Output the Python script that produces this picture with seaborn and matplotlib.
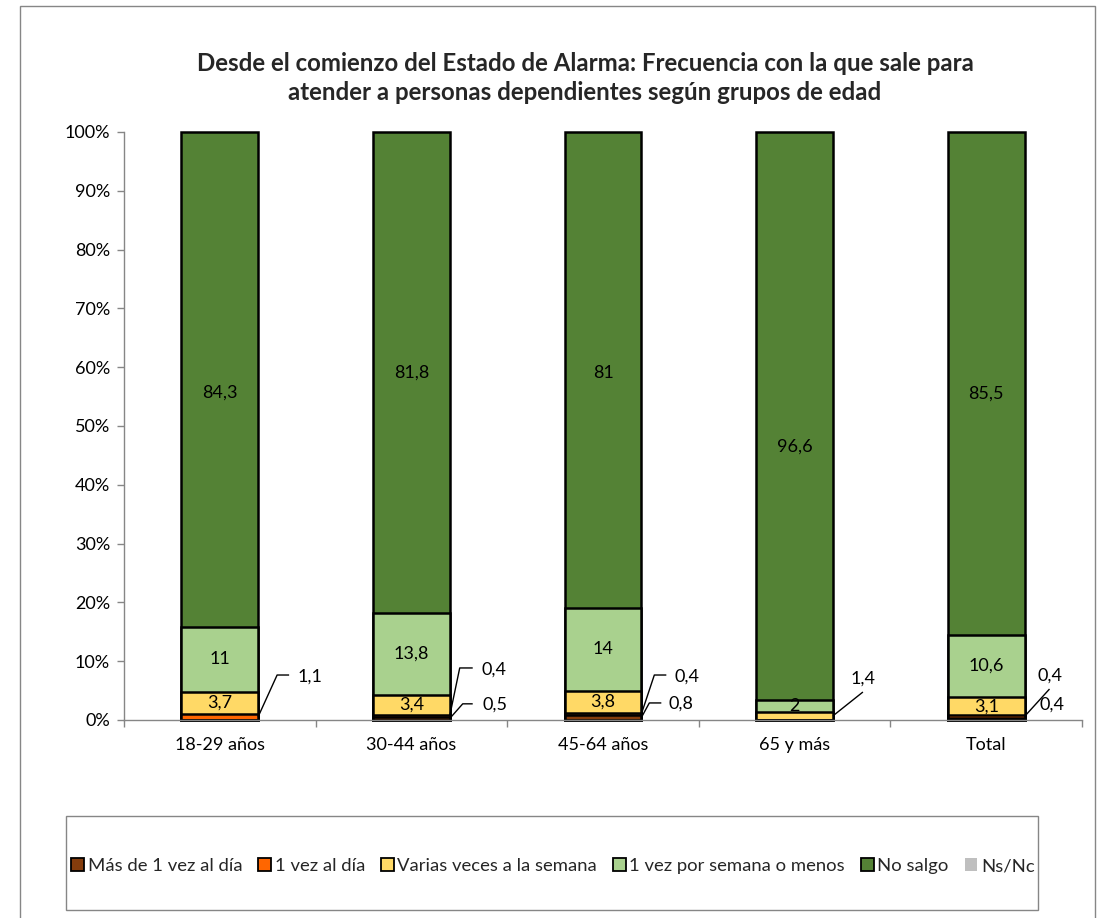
import numpy as np
import pandas as pd
import matplotlib
matplotlib.use("Agg")
import matplotlib.pyplot as plt
import seaborn as sns
from matplotlib.patches import Rectangle, Patch

# ---------------- data ----------------
categories = ["18-29 años", "30-44 años", "45-64 años", "65 y más", "Total"]
series_names = ["Más de 1 vez al día", "1 vez al día", "Varias veces a la semana",
                "1 vez por semana o menos", "No salgo", "Ns/Nc"]
mas_de_1_vez = [0, 0.5, 0.8, 0, 0.4]
una_vez_dia = [1.1, 0.4, 0.4, 0, 0.4]
varias_veces = [3.7, 3.4, 3.8, 1.4, 3.1]
una_vez_semana = [11, 13.8, 14, 2, 10.6]
no_salgo = [84.3, 81.8, 81, 96.6, 85.5]
ns_nc = [0, 0, 0, 0, 0]
y_ticks = [0, 10, 20, 30, 40, 50, 60, 70, 80, 90, 100]
y_tick_labels = ["0%", "10%", "20%", "30%", "40%", "50%", "60%", "70%", "80%", "90%", "100%"]
title = ("Desde el comienzo del Estado de Alarma: Frecuencia con la que sale para\n"
         "atender a personas dependientes según grupos de edad")

series_values = [mas_de_1_vez, una_vez_dia, varias_veces, una_vez_semana, no_salgo, ns_nc]
colors = ["#843C0C", "#FF6600", "#FFD966", "#A9D18E", "#548235", "#BFBFBF"]

# callout layout: (category idx, series idx, elbow dx px, elbow y, end dx px, text dx px, text y, ha)
callouts = [
    (0, 1, 19, 7.65, 31, 39, 7.3, "left"),
    (1, 1, 10, 8.85, 23, 32, 8.5, "left"),
    (1, 0, 13, 2.75, 23, 33, 2.6, "left"),
    (2, 1, 13, 7.65, 25, 33, 7.3, "left"),
    (2, 0, 8, 2.9, 20, 27, 2.75, "left"),
    (3, 2, 30, 4.76, 30, 30, 7.1, "center"),
    (4, 1, 25, 5.27, 25, 25, 7.5, "center"),
    (4, 0, None, None, None, 15, 2.55, "left"),
]
# vertical nudges (px, downwards) of the big "No salgo" labels
label_nudge_px = {(4, 0): 13, (4, 2): 3, (4, 3): 31, (4, 4): 10}

# ---------------- style ----------------
sns.set_theme(style="white")
plt.rcParams["font.family"] = ["Lato", "DejaVu Sans"]

W, H, DPI = 1109, 918, 100
fig = plt.figure(figsize=(W / DPI, H / DPI), dpi=DPI)
ax_left, ax_bottom = 124 / W, 1 - 720 / H
ax_w, ax_h = (1082 - 124) / W, (720 - 132) / H
ax = fig.add_axes([ax_left, ax_bottom, ax_w, ax_h])

bar_width = 0.4
data = pd.DataFrame({"cat": categories})
vals_arr = np.array(series_values, dtype=float)
totals = vals_arr.sum(axis=0)
cum = np.cumsum(vals_arr, axis=0) / totals * 100  # 100% stacked
shares = vals_arr / totals * 100

for i in range(len(series_values) - 1, -1, -1):
    data["h"] = cum[i]
    before = len(ax.patches)
    sns.barplot(data=data, x="cat", y="h", order=categories, color=colors[i],
                saturation=1, width=bar_width, edgecolor="black" if i < 5 else "none",
                linewidth=1.8, ax=ax, errorbar=None)
    for p in ax.patches[before:]:
        p.set_clip_on(False)

ax.set_xlim(-0.5, len(categories) - 0.5)
ax.set_ylim(0, 100)
ax.set_xlabel("")
ax.set_ylabel("")

for s in ["top", "right"]:
    ax.spines[s].set_visible(False)
for s in ["left", "bottom"]:
    ax.spines[s].set_color("#868686")
    ax.spines[s].set_linewidth(1.0)
ax.set_yticks(y_ticks)
ax.set_yticklabels(y_tick_labels)
ax.set_xticks(range(len(categories)))
ax.set_xticklabels(categories)
ax.set_xticks(np.arange(-0.5, len(categories), 1.0), minor=True)
ax.tick_params(axis="y", which="major", left=True, length=5, width=1, color="#868686",
               direction="out", labelsize=13, labelcolor="black", pad=5)
ax.tick_params(axis="x", which="major", bottom=False, length=0, labelsize=13,
               labelcolor="black", pad=12)
ax.tick_params(axis="x", which="minor", bottom=True, length=5, width=1, color="#868686",
               direction="out")
ax.grid(False)

fmt = lambda v: f"{v:g}".replace(".", ",")
px_y = 100 / (ax_h * H)

for i, vals in enumerate(series_values):
    for j, v in enumerate(vals):
        if v >= 2:
            yc = cum[i][j] - shares[i][j] / 2 - label_nudge_px.get((i, j), 0) * px_y
            ax.text(j, yc, fmt(v), ha="center", va="center", fontsize=13, color="black",
                    clip_on=False)

px_x = len(categories) / (ax_w * W)
for (j, i, edx, ey, endx, tdx, ty, ha) in callouts:
    v = series_values[i][j]
    xr = j + bar_width / 2
    y0 = cum[i][j] - shares[i][j] / 2
    if edx is not None:
        xs = [xr, xr + edx * px_x, xr + endx * px_x]
        ys = [y0, ey, ey]
        ax.plot(xs, ys, color="black", lw=1.0, clip_on=False, solid_capstyle="butt")
    ax.text(xr + tdx * px_x, ty, fmt(v), ha=ha, va="center", fontsize=13, color="black",
            clip_on=False)

fig.text(585 / W, 1 - 78 / H, title, ha="center", va="center", fontsize=17.3,
         fontweight="bold", linespacing=1.35)

fig.add_artist(Rectangle((20 / W, -0.01), (1095 - 20) / W, 1 - 6 / H + 0.01,
                         transform=fig.transFigure, fill=False, edgecolor="#868686", lw=1.0))
fig.add_artist(Rectangle((66 / W, 1 - 910 / H), (1038 - 66) / W, 94 / H,
                         transform=fig.transFigure, fill=False, edgecolor="#868686", lw=1.0))

handles = [Patch(facecolor=c, edgecolor="black" if k < 5 else "none", linewidth=1.3)
           for k, c in enumerate(colors)]
fig.legend(handles, series_names, loc="center", bbox_to_anchor=(553 / W, 1 - 866 / H),
           ncol=6, frameon=False, fontsize=13.3, handlelength=0.7, handleheight=0.7,
           handletextpad=0.2, columnspacing=0.85)

fig.savefig("out.png", dpi=DPI)
